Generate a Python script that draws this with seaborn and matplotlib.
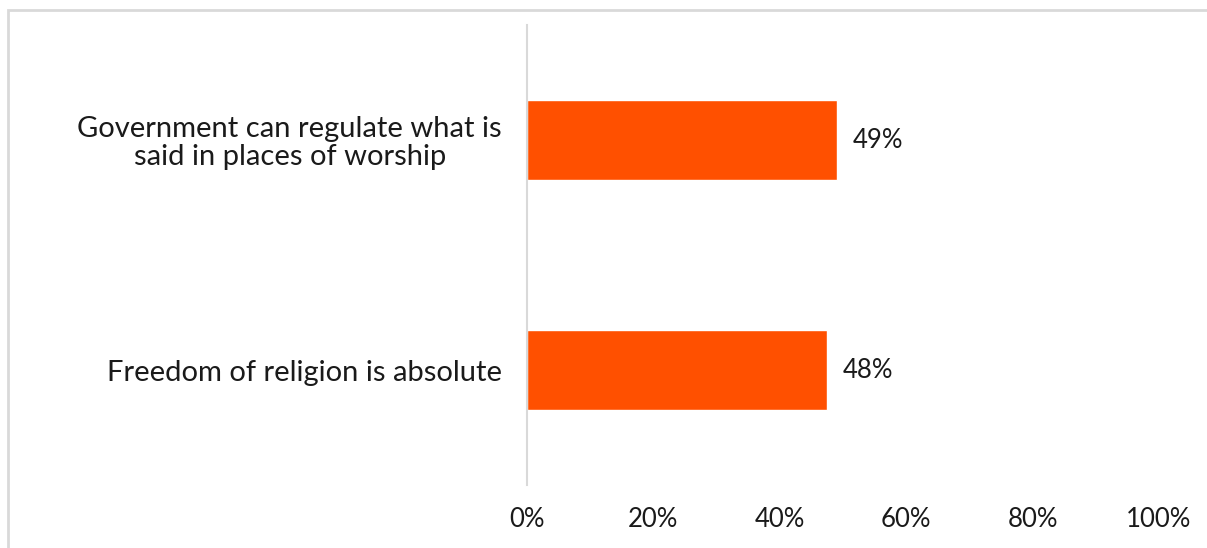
import matplotlib
matplotlib.use("Agg")
import matplotlib.pyplot as plt
import seaborn as sns
import pandas as pd
from matplotlib.patches import Rectangle

categories = ["Government can regulate what is\nsaid in places of worship",
              "Freedom of religion is absolute"]
values = [49.0, 47.4]
value_labels = ["49%", "48%"]
xticks = [0, 20, 40, 60, 80, 100]
xtick_labels = ["0%", "20%", "40%", "60%", "80%", "100%"]

sns.set_style("white")
plt.rcParams['font.family'] = ['Lato', 'DejaVu Sans']

df = pd.DataFrame({"category": categories, "value": values})

fig = plt.figure(figsize=(12.07, 5.48), dpi=100)
fig.patch.set_facecolor("white")
fig.add_artist(Rectangle((8/1207, -0.1), 1.2, 1 - 10/548 + 0.1, transform=fig.transFigure,
                         fill=False, edgecolor="#d9d9d9", linewidth=2))
ax = fig.add_axes([527/1207, 1 - 485/548, 632/1207, 460/548])
sns.barplot(data=df, y="category", x="value", orient="h", color="#ff5000",
            saturation=1, width=0.352, ax=ax)
ax.set_xlim(0, 100)
ax.set_ylim(1.5, -0.5)
ax.set_xticks(xticks)
ax.set_xticklabels(xtick_labels, fontsize=18.5, color="#1a1a1a")
ax.tick_params(axis="x", length=0, pad=16)
ax.tick_params(axis="y", length=0, pad=18, labelsize=21, labelcolor="#1a1a1a")
for lab in ax.get_yticklabels():
    lab.set_multialignment("center")
    lab.set_linespacing(1.05)
ax.set_xlabel("")
ax.set_ylabel("")
for s in ["top", "right", "bottom"]:
    ax.spines[s].set_visible(False)
ax.spines["left"].set_color("#d9d9d9")
ax.spines["left"].set_linewidth(1.5)
for p, lab in zip(ax.patches, value_labels):
    ax.text(p.get_width() + 2.6, p.get_y() + p.get_height() / 2, lab,
            va="center", ha="left", fontsize=18.5, color="#1a1a1a")

fig.savefig("out.png", dpi=100)
